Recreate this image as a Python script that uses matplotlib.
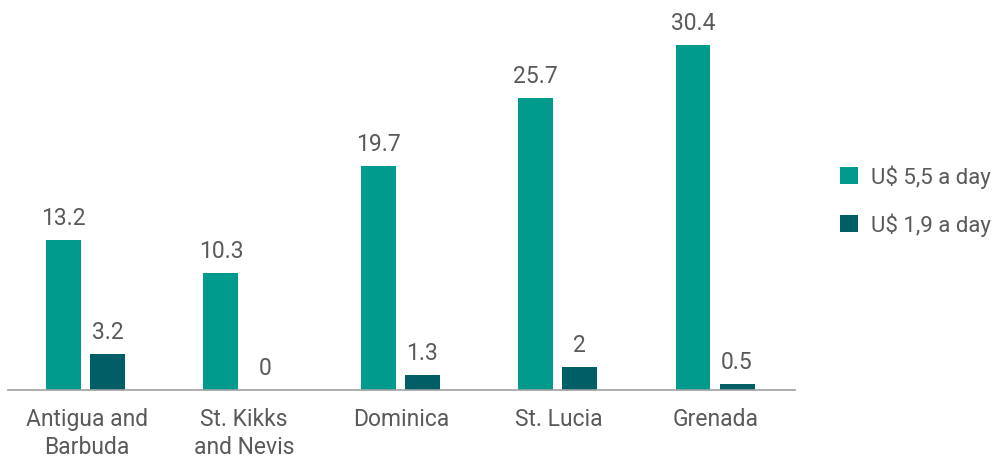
import matplotlib.pyplot as plt
import numpy as np

countries = ['Antigua and\nBarbuda', 'St. Kikks\nand Nevis', 'Dominica', 'St. Lucia', 'Grenada']
poverty_55 = [13.2, 10.3, 19.7, 25.7, 30.4]
poverty_19 = [3.2, 0, 1.3, 2, 0.5]
series_names = ['U$ 5,5 a day', 'U$ 1,9 a day']

teal = '#009B8D'
dark = '#005F66'
grey = '#5A5A5A'

plt.rcParams['font.family'] = ['Roboto', 'DejaVu Sans']

fig = plt.figure(figsize=(10.01, 4.60), dpi=100)
ax = fig.add_axes([0.008, 0.15, 0.786, 0.815])

x = np.arange(len(countries))
w = 0.222
b1 = ax.bar(x - 0.147, poverty_55, w, color=teal, label=series_names[0])
b2 = ax.bar(x + 0.133, poverty_19, w, color=dark, label=series_names[1])

for bars, vals in [(b1, poverty_55), (b2, poverty_19)]:
    for bar, v in zip(bars, vals):
        ax.annotate(f'{v:g}', (bar.get_x() + bar.get_width() / 2, v),
                    xytext=(0, 8), textcoords='offset points',
                    ha='center', va='bottom', fontsize=16.5, color=grey)

ax.set_xlim(-0.5, len(countries) - 0.5)
ax.set_ylim(0, 33)
ax.set_xticks(x)
ax.set_xticklabels(countries, fontsize=16.5, color=grey, linespacing=1.3)
ax.tick_params(axis='x', length=0, pad=12)
ax.set_yticks([])
for s in ['top', 'right', 'left']:
    ax.spines[s].set_visible(False)
ax.spines['bottom'].set_color('#A0A0A0')
ax.spines['bottom'].set_linewidth(1.2)

leg = fig.legend(handles=[b1, b2], loc='center left', bbox_to_anchor=(0.819, 0.563),
                 frameon=False, fontsize=16, handlelength=0.8, handleheight=0.8,
                 handletextpad=0.6, labelspacing=1.1)
for t in leg.get_texts():
    t.set_color(grey)

fig.savefig('out.png', dpi=100)
